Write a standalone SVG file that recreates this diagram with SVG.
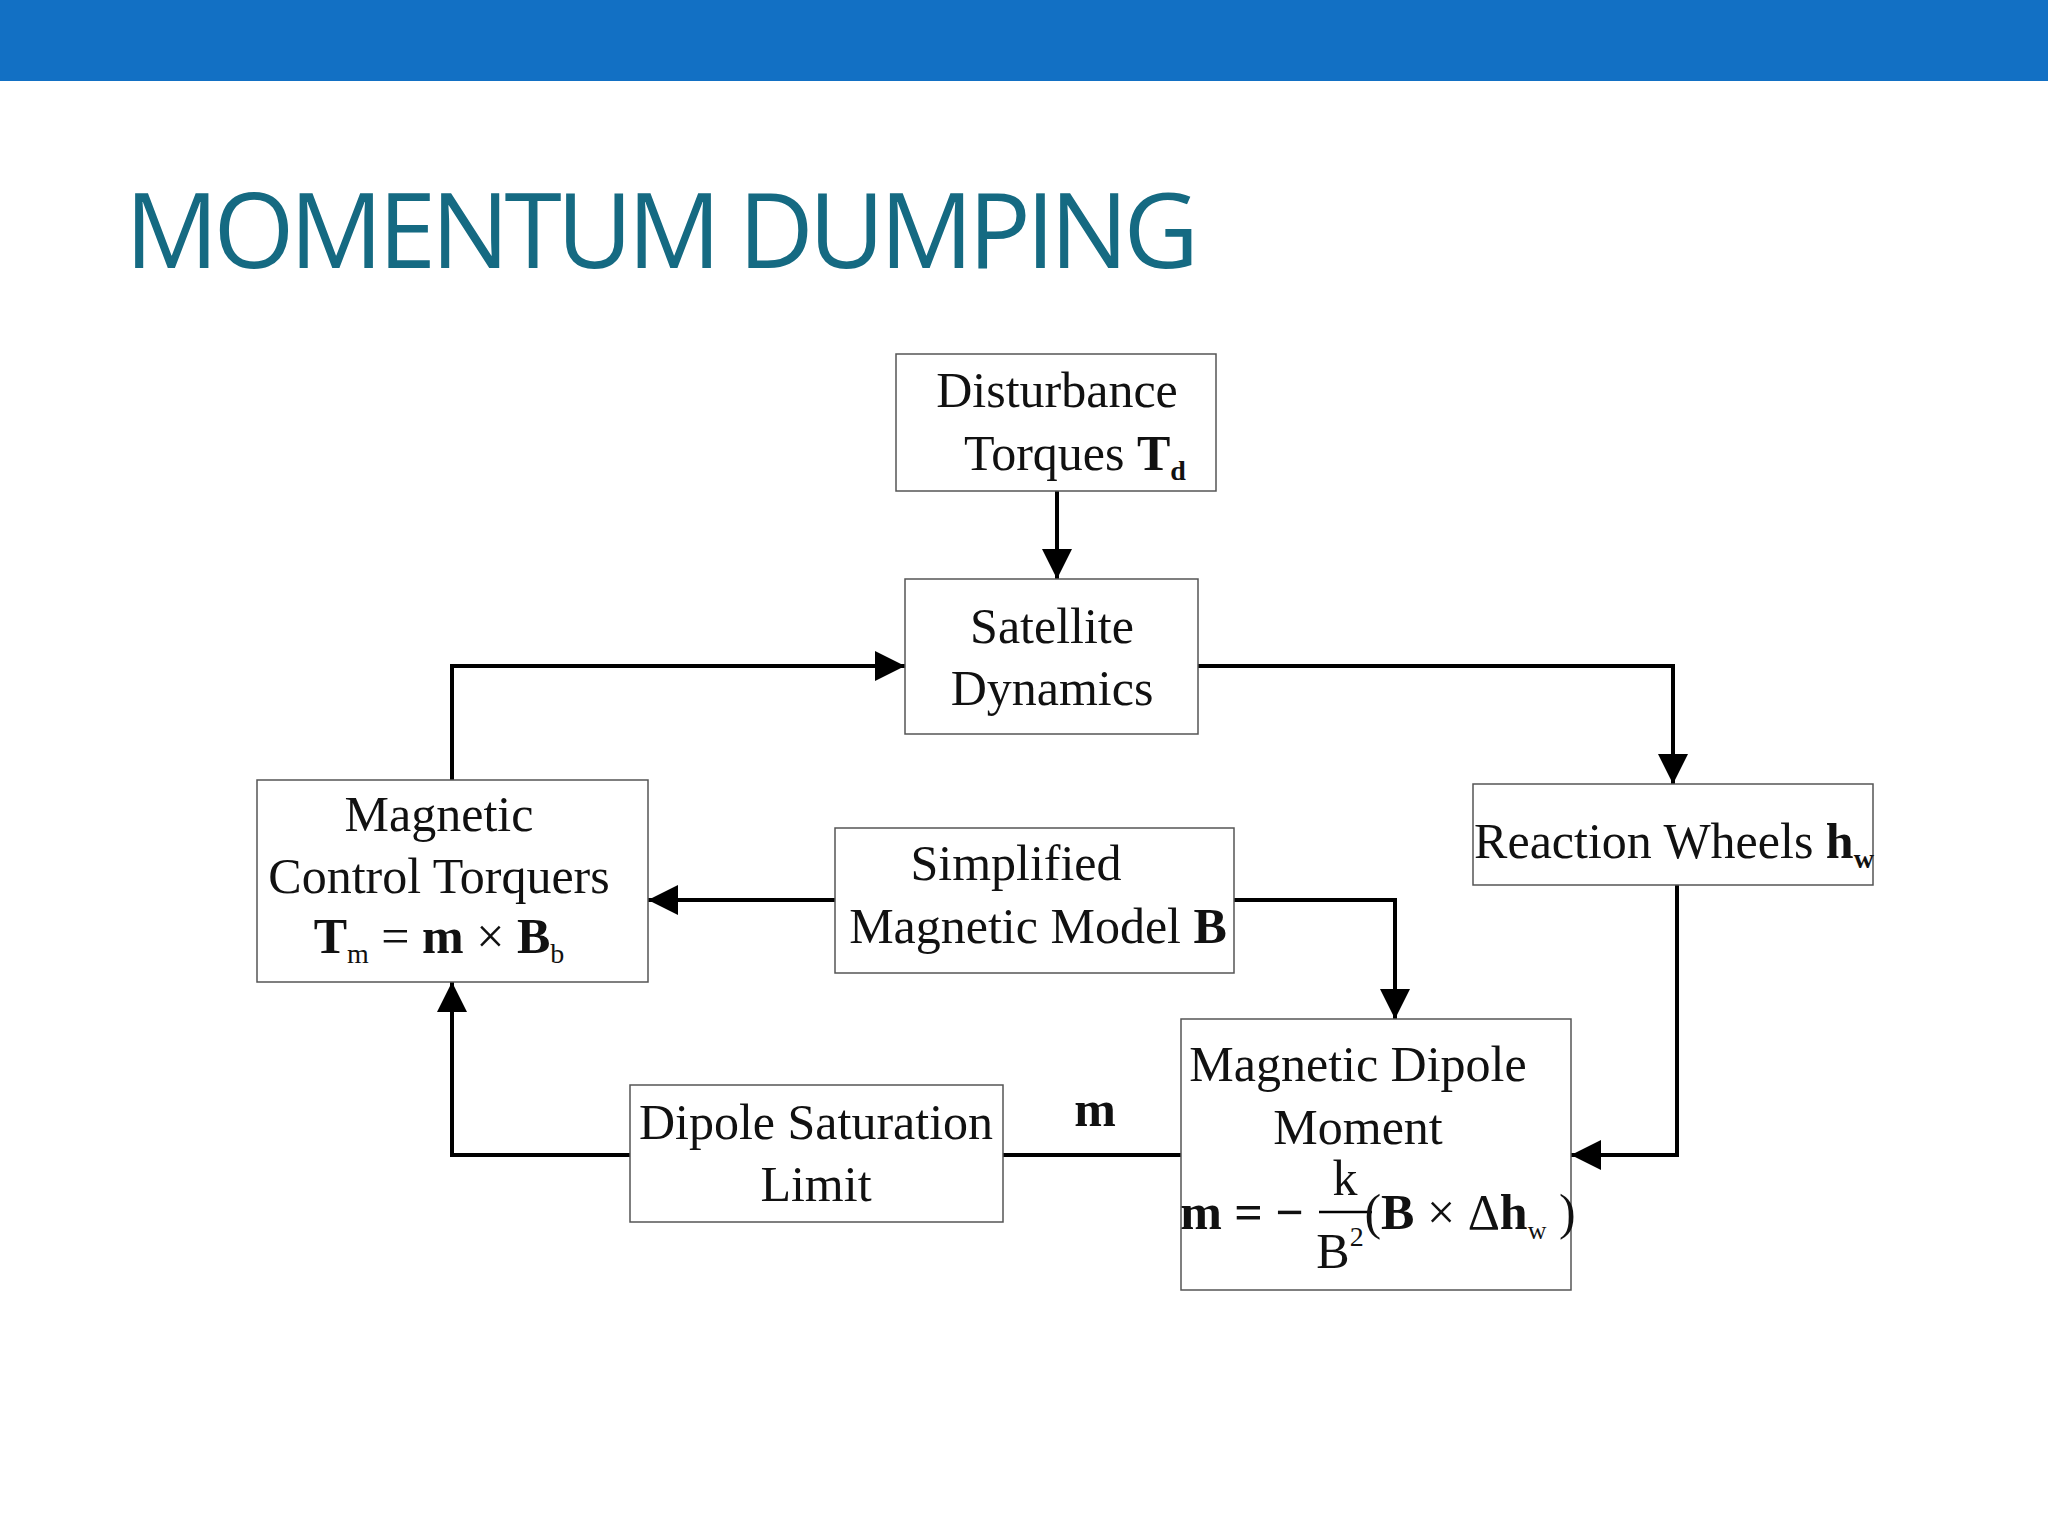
<svg xmlns="http://www.w3.org/2000/svg" width="2048" height="1536" viewBox="0 0 2048 1536">
<style>
.b{fill:#fff;stroke:#555;stroke-width:1.5}
.t{font-family:"Liberation Serif",serif;font-size:50px;fill:#111;text-anchor:middle}
.l{fill:none;stroke:#000;stroke-width:4}
.bd{font-weight:bold}
</style>
<defs><marker id="a" markerWidth="10" markerHeight="10" refX="9" refY="5" orient="auto" markerUnits="userSpaceOnUse" viewBox="0 0 10 10"><path d="M0,0 L10,5 L0,10 z" fill="#000"/></marker>
<marker id="ah" viewBox="0 0 10 10" refX="10" refY="5" markerWidth="30" markerHeight="30" orient="auto" markerUnits="userSpaceOnUse"><path d="M0,0 L10,5 L0,10 z" fill="#000"/></marker></defs>
<rect width="2048" height="1536" fill="#fff"/>
<rect width="2048" height="81" fill="#1270C4"/>
<text x="125" y="268" font-family="Open Sans,sans-serif" font-size="104" fill="#156a82" textLength="1074">MOMENTUM DUMPING</text>
<g id="connectors">
<path class="l" d="M1057,491 V579" marker-end="url(#ah)"/>
<path class="l" d="M452,780 V666 H905" marker-end="url(#ah)"/>
<path class="l" d="M1198,666 H1673 V784" marker-end="url(#ah)"/>
<path class="l" d="M835,900 H648" marker-end="url(#ah)"/>
<path class="l" d="M1234,900 H1395 V1019" marker-end="url(#ah)"/>
<path class="l" d="M1677,885 V1155 H1571" marker-end="url(#ah)"/>
<path class="l" d="M1181,1155 H1003"/>
<path class="l" d="M630,1155 H452 V982" marker-end="url(#ah)"/>
<text class="t bd" x="1095" y="1126" font-size="38">m</text>
</g>
<g id="disturbance"><rect class="b" x="896" y="354" width="320" height="137"/>
<text class="t" x="1057" y="407">Disturbance</text>
<text class="t" x="1075" y="470">Torques <tspan class="bd">T</tspan><tspan class="bd" font-size="28" dy="10">d</tspan></text></g>
<g id="satellite"><rect class="b" x="905" y="579" width="293" height="155"/>
<text class="t" x="1052" y="643">Satellite</text><text class="t" x="1052" y="705">Dynamics</text></g>
<g id="mct"><rect class="b" x="257" y="780" width="391" height="202"/>
<text class="t" x="439" y="831">Magnetic</text><text class="t" x="439" y="893">Control Torquers</text>
<text class="t" x="439" y="953"><tspan class="bd">T</tspan><tspan font-size="28" dy="10">m</tspan><tspan dy="-10"> = </tspan><tspan class="bd">m</tspan> × <tspan class="bd">B</tspan><tspan font-size="28" dy="10">b</tspan></text></g>
<g id="simplified"><rect class="b" x="835" y="828" width="399" height="145"/>
<text class="t" x="1016" y="880">Simplified</text><text class="t" x="1038" y="943">Magnetic Model  <tspan class="bd">B</tspan></text></g>
<g id="reaction"><rect class="b" x="1473" y="784" width="400" height="101"/>
<text class="t" x="1674" y="858">Reaction Wheels <tspan class="bd">h</tspan><tspan class="bd" font-size="28" dy="10">w</tspan></text></g>
<g id="saturation"><rect class="b" x="630" y="1085" width="373" height="137"/>
<text class="t" x="816" y="1139">Dipole Saturation</text><text class="t" x="816" y="1201">Limit</text></g>
<g id="dipole"><rect class="b" x="1181" y="1019" width="390" height="271"/>
<text class="t" x="1358" y="1081">Magnetic Dipole</text><text class="t" x="1358" y="1144">Moment</text>
<text class="t bd" x="1242" y="1229">m = −</text>
<text class="t" x="1345" y="1195">k</text>
<line x1="1319" y1="1212" x2="1372" y2="1212" stroke="#000" stroke-width="2.5"/>
<text class="t" x="1340" y="1268">B<tspan font-size="28" dy="-22">2</tspan></text>
<text class="t" x="1470" y="1229" font-size="52">(<tspan class="bd">B</tspan> × Δ<tspan class="bd">h</tspan><tspan font-size="26" dy="10">w</tspan><tspan dy="-10"> )</tspan></text></g>
</svg>
